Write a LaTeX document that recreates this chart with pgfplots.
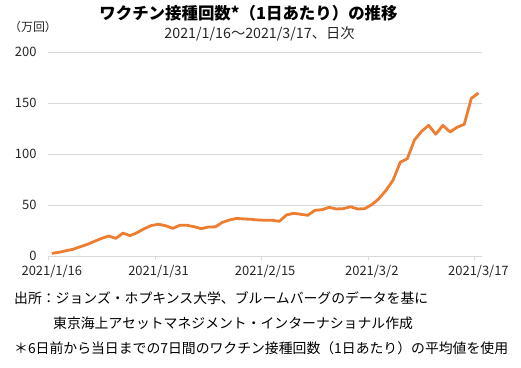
\documentclass[border=0pt]{standalone}
\usepackage{fontspec}
\setmainfont{Noto Sans CJK JP}
\usepackage{pgfplots}
\pgfplotsset{compat=1.18}
\definecolor{lineor}{HTML}{ED7D31}
\definecolor{gridg}{HTML}{D9D9D9}
\begin{document}
\begin{tikzpicture}[x=1bp,y=1bp]
\useasboundingbox (0,0) rectangle (521,367);
\begin{axis}[
  at={(48.3bp,110.7bp)}, anchor=south west,
  scale only axis, width=433.7bp, height=204bp,
  xmin=-0.5, xmax=60.5, ymin=0, ymax=200,
  axis x line*=bottom, axis y line*=left,
  x axis line style={draw=gridg, line width=0.8pt, -},
  y axis line style={draw=none},
  xtick={0,15,30,45,60},
  xticklabels={2021/1/16,2021/1/31,2021/2/15,2021/3/2,2021/3/17},
  major x tick style={draw=none},
  major y tick style={draw=none},
  minor xtick={-0.5,14.5,29.5,44.5,59.5},
  minor x tick style={draw=gridg, line width=0.8pt},
  minor tick length=4bp,
  tick align=outside,
  ytick={0,50,100,150,200},
  ymajorgrids, grid style={draw=gridg, line width=0.8pt},
  /pgf/number format/assume math mode=true,
  ticklabel style={font=\fontsize{13}{15}\selectfont, text=black!85},
  xticklabel style={yshift=-1bp},
  yticklabel style={xshift=-4bp},
  clip=false,
]
\addplot[lineor, line width=2.8bp, line join=round] table[x=d,y=v] {
d v
0 2.9
1 3.9
2 5.5
3 6.9
4 9.4
5 11.7
6 14.7
7 17.6
8 19.9
9 17.6
10 22.8
11 20.2
12 23.2
13 27.1
14 30.2
15 31.4
16 30.0
17 27.4
18 30.4
19 30.4
20 29.0
21 27.1
22 28.7
23 28.9
24 33.3
25 35.6
26 37.2
27 36.6
28 36.3
29 35.6
30 35.3
31 35.3
32 34.3
33 40.5
34 42.2
35 41.2
36 40.2
37 45.1
38 45.7
39 48.0
40 46.4
41 46.7
42 48.6
43 46.4
44 46.7
45 50.6
46 56.5
47 64.7
48 74.8
49 92.2
50 95.7
51 114.0
52 122.5
53 128.4
54 119.6
55 128.4
56 121.9
57 126.5
58 129.4
59 154.9
60 160.1
};
\end{axis}
\node[anchor=center, font=\fontsize{16.5}{19}\selectfont\bfseries] at (248.5,354) {ワクチン接種回数*（1日あたり）の推移};
\node[anchor=center, font=\fontsize{14.3}{16}\selectfont, text=black!85] at (259.5,333.5) {2021/1/16～2021/3/17、日次};
\node[anchor=center, font=\fontsize{12}{14}\selectfont, text=black!85] at (33,340) {（万回）};
\node[anchor=west, inner sep=0pt, font=\fontsize{13.9}{16}\selectfont] at (14,69) {出所：ジョンズ・ホプキンス大学、ブルームバーグのデータを基に};
\node[anchor=west, inner sep=0pt, font=\fontsize{13.9}{16}\selectfont] at (53,44) {東京海上アセットマネジメント・インターナショナル作成};
\node[anchor=west, inner sep=0pt, font=\fontsize{13.9}{16}\selectfont] at (14,19) {＊6日前から当日までの7日間のワクチン接種回数（1日あたり）の平均値を使用};
\end{tikzpicture}
\end{document}
